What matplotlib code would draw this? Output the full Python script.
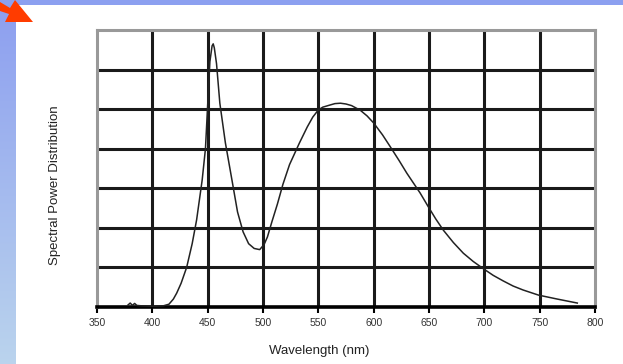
import numpy as np
import matplotlib
matplotlib.use('Agg')
import matplotlib.pyplot as plt
from matplotlib.patches import Rectangle, Polygon

plt.rcParams['font.family'] = ['Liberation Sans', 'DejaVu Sans']

# espectro do LED branco (azul + fósforo amarelo)
wl = [378, 380, 382, 384, 386, 390, 400, 410, 415, 419, 422, 426, 431, 436, 440,
      443, 445, 448, 450, 452, 454, 455, 456, 458, 461, 466, 472, 477, 482, 487,
      492, 497, 501, 504, 508, 513, 518, 524, 533, 540, 545, 550, 554, 560, 565,
      570, 575, 580, 588, 594, 600, 608, 615, 623, 630, 642, 649, 656, 663, 672,
      681, 690, 699, 708, 717, 726, 735, 749, 766, 784]
spd = [0.05, 0.10, 0.04, 0.09, 0.04, 0.03, 0.02, 0.03, 0.07, 0.20, 0.35, 0.60, 1.00, 1.60, 2.20,
       2.80, 3.20, 4.00, 5.10, 6.20, 6.60, 6.65, 6.55, 6.15, 5.15, 4.15, 3.20, 2.40, 1.90, 1.60,
       1.48, 1.45, 1.58, 1.77, 2.15, 2.60, 3.10, 3.60, 4.15, 4.55, 4.80, 4.98, 5.05, 5.10, 5.14,
       5.15, 5.13, 5.09, 4.97, 4.83, 4.65, 4.35, 4.05, 3.70, 3.38, 2.88, 2.55, 2.23, 1.94, 1.63,
       1.36, 1.15, 0.97, 0.80, 0.66, 0.53, 0.43, 0.30, 0.20, 0.10]

xticks = [350, 400, 450, 500, 550, 600, 650, 700, 750, 800]
grid_x = xticks[1:-1]
grid_y = [1, 2, 3, 4, 5, 6]

fig = plt.figure(figsize=(6.23, 3.64), dpi=100)

# fundo do slide: faixa azul no topo, faixa lateral em degradê e a seta vermelha
bg = fig.add_axes([0, 0, 1, 1], zorder=-5)
bg.set_xlim(0, 623)
bg.set_ylim(364, 0)
bg.axis('off')
grad = np.linspace(0, 1, 256).reshape(-1, 1)
cores = np.array([[0.55, 0.62, 0.94]]) * (1 - grad) + np.array([[0.73, 0.83, 0.93]]) * grad
bg.imshow(cores.reshape(256, 1, 3), extent=[0, 16, 364, 0], aspect='auto')
bg.add_patch(Rectangle((0, 0), 623, 5, color='#8ca0f0', lw=0))
bg.add_patch(Polygon([(0, 2), (10, 8), (15, 0), (33, 22), (5, 22), (9, 14), (0, 11)],
                     closed=True, color='#ff3c00', lw=0))

ax = fig.add_axes([97 / 623, 1 - 307 / 364, 498 / 623, 277 / 364])
ax.vlines(grid_x, 0, 7, color='#1a1a1a', lw=2.2, zorder=1)
ax.hlines(grid_y, 350, 800, color='#1a1a1a', lw=2.2, zorder=1)
ax.plot(wl, spd, color='#222222', lw=1.1, zorder=3)

ax.set_xlim(350, 800)
ax.set_ylim(0, 7)
ax.set_xticks(xticks)
ax.set_xticklabels([str(t) for t in xticks], fontsize=7.5, color='#333333')
ax.set_yticks([])
ax.tick_params(axis='x', direction='out', length=4, width=1.5, color='black', pad=4)

for lado in ['left', 'top', 'right']:
    ax.spines[lado].set_color('#999999')
    ax.spines[lado].set_linewidth(2.2)
ax.spines['bottom'].set_color('black')
ax.spines['bottom'].set_linewidth(2.6)

ax.set_xlabel('Wavelength (nm)', fontsize=9.5, color='#222222')
ax.set_ylabel('Spectral Power Distribution', fontsize=9.5, color='#222222')
ax.xaxis.set_label_coords(0.446, -0.138)
ax.yaxis.set_label_coords(-0.072, 0.44)

fig.savefig('out.png', dpi=100)
